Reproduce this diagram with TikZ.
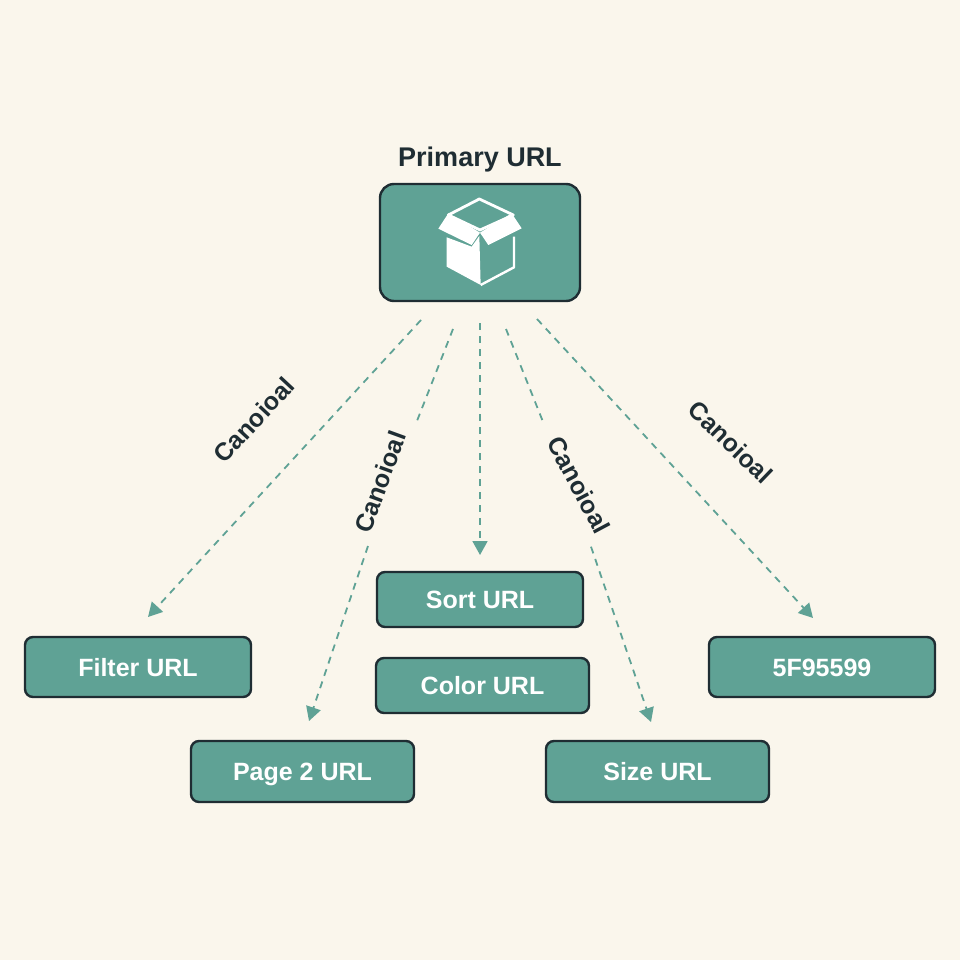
\documentclass[tikz,border=0pt]{standalone}
\usepackage{fontspec}
\setmainfont{Liberation Sans}
\usetikzlibrary{arrows.meta,calc}
\definecolor{bgc}{HTML}{FAF6EC}
\definecolor{teal1}{HTML}{5FA295}
\definecolor{ink}{HTML}{1F2D33}
\tikzset{
  urlbox/.style={draw=ink,line width=2.4pt,fill=teal1,rounded corners=8pt,inner sep=0pt,text=white,text height=18pt,text depth=0pt,font=\fontsize{25}{30}\selectfont\bfseries},
  conn/.style={draw=teal1,line width=1.8pt,dash pattern=on 7pt off 6pt},
  tip/.style={-{Triangle[length=14pt,width=15pt,fill=teal1,color=teal1]}},
  lab/.style={text=ink,font=\fontsize{25}{28}\selectfont\bfseries,inner sep=0pt},
}
\begin{document}
\begin{tikzpicture}[x=1pt,y=-1pt]
\useasboundingbox (0,0) rectangle (960,960);
\fill[bgc] (0,0) rectangle (960,960);
% boxes
\node[urlbox,rounded corners=14pt,minimum width=200pt,minimum height=117pt] (primary) at (480,242.5) {};
\node[text=ink,font=\fontsize{27}{32}\selectfont\bfseries,inner sep=0pt,text height=19pt,text depth=0pt] (ptitle) at (480,157) {Primary URL};
\node[urlbox,minimum width=226pt,minimum height=60pt] (filter) at (138,667) {Filter URL};
\node[urlbox,minimum width=223pt,minimum height=61pt] (page) at (302.5,771.5) {Page 2 URL};
\node[urlbox,minimum width=206pt,minimum height=55pt] (sort) at (480,599.5) {Sort URL};
\node[urlbox,minimum width=213pt,minimum height=55pt] (color) at (482.5,685.5) {Color URL};
\node[urlbox,minimum width=223pt,minimum height=61pt] (size) at (657.5,771.5) {Size URL};
\node[urlbox,minimum width=226pt,minimum height=60pt] (five) at (822,667) {5F95599};
% icon
\begin{scope}[shift={(370,130)},x=0.3333pt,y=-0.3333pt]
\fill[white] (230,322) -- (305,350) -- (328,318) -- (332,465) -- (230,410) -- cycle;
\draw[white,line width=2.4pt,line join=round] (332,465) -- (432,412) -- (432,320);
\draw[white,line width=2.8pt,line join=round] (235,255) -- (328,207) -- (430,255) -- (330,300) -- cycle;
\fill[white] (235,250) -- (205,296) -- (305,345) -- (330,308) -- cycle;
\fill[white] (425,250) -- (455,295) -- (355,345) -- (330,308) -- cycle;
\end{scope}
% connector ends
\coordinate (s1) at (421,320);
\coordinate (e1) at (148,617);
\coordinate (s2) at (453,329);
\coordinate (g2a) at (416.7,421.7);
\coordinate (g2b) at (368,546);
\coordinate (e2) at (309,721);
\coordinate (s3) at (480,323);
\coordinate (e3) at (480,555);
\coordinate (s4) at (506,329);
\coordinate (g4a) at (542.7,421);
\coordinate (g4b) at (591,546.7);
\coordinate (e4) at (651,722);
\coordinate (s5) at (537,319);
\coordinate (e5) at (813,618);
\draw[conn,tip] (s1) -- (e1);
\draw[conn] (s2) -- (g2a);
\draw[conn,tip] (g2b) -- (e2);
\draw[conn,tip] (s3) -- (e3);
\draw[conn] (s4) -- (g4a);
\draw[conn,tip] (g4b) -- (e4);
\draw[conn,tip] (s5) -- (e5);
% labels
\node[lab,rotate=47] (l1) at (254,420) {Canoioal};
\node[lab,rotate=70] (l2) at (380,482) {Canoioal};
\node[lab,rotate=-62] (l4) at (579,485) {Canoioal};
\node[lab,rotate=-44] (l5) at (731,442) {Canoioal};
\end{tikzpicture}
\end{document}
